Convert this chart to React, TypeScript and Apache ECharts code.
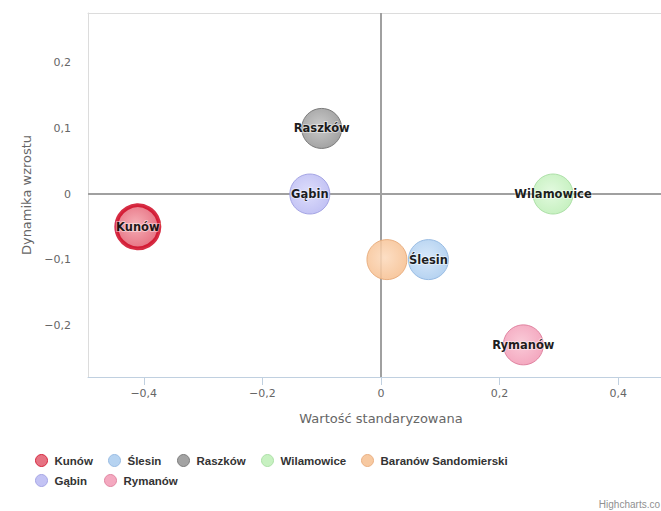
import React, { useEffect, useRef } from "react";
import * as echarts from "echarts";

// ---- data ----
const names = ["Kunów", "Ślesin", "Raszków", "Wilamowice", "Baranów Sandomierski", "Gąbin", "Rymanów"];
const xValues = [-0.41, 0.08, -0.1, 0.29, 0.01, -0.12, 0.24];
const yValues = [-0.05, -0.1, 0.1, 0, -0.1, 0, -0.23];
const showLabel = [true, true, true, true, false, true, true];
const xTicks = [-0.4, -0.2, 0, 0.2, 0.4];
const yTicks = [-0.2, -0.1, 0, 0.1, 0.2];

// ---- styles ----
const innerColors = ["#f5a5ae", "#d2e5f9", "#c4c4c4", "#dff9db", "#fcdabc", "#d9d9fb", "#f9c4d3"];
const outerColors = ["#e25a6d", "#a9cbee", "#939393", "#bdeeb6", "#f6bf90", "#b8b8f2", "#f29ab5"];
const borderColors = ["#d0102a", "#8fb5df", "#707070", "#a5dc9f", "#e6a878", "#9c9ce0", "#dc7a98"];
const legendText = [56, 129, 198, 282, 382, 56, 125];
const legendRow = [0, 0, 0, 0, 0, 1, 1];

const fmt = (v: number) => {
  if (Math.abs(v) < 1e-9) return "0";
  const s = Math.abs(v).toFixed(1).replace(".", ",");
  return v < 0 ? "\u2212" + s : s;
};

export default function App() {
  const ref = useRef<HTMLDivElement>(null);
  useEffect(() => {
    if (!ref.current) return;
    const chart = echarts.init(ref.current, undefined, { renderer: "svg" });
    const series = names.map((name, i) => ({
      type: "scatter",
      name,
      data: [[xValues[i], yValues[i]]],
      symbol: "circle",
      symbolSize: i === 0 ? 43 : 40,
      itemStyle: {
        color: new echarts.graphic.RadialGradient(0.45, 0.45, 0.6, [
          { offset: 0, color: innerColors[i] },
          { offset: 1, color: outerColors[i] },
        ]),
        borderColor: borderColors[i],
        borderWidth: i === 0 ? 4 : 1,
        opacity: 0.88,
      },
      label: {
        show: showLabel[i],
        position: "inside",
        formatter: name,
        fontFamily: "DejaVu Sans",
        fontWeight: "bold",
        fontSize: 11.5,
        color: "#000",
        textBorderColor: "rgba(255,255,255,0.5)",
        textBorderWidth: 2,
      },
      emphasis: { disabled: true },
      z: 3,
      markLine:
        i === 0
          ? {
              silent: true,
              symbol: "none",
              label: { show: false },
              lineStyle: { color: "#a0a0a0", width: 2, type: "solid" },
              emphasis: { disabled: true },
              data: [{ xAxis: 0 }, { yAxis: 0 }],
              z: 2,
            }
          : undefined,
    }));

    const legends = names.map((name, i) => ({
      data: [
        {
          name,
          itemStyle: { color: outerColors[i], borderColor: borderColors[i], borderWidth: 1, opacity: 0.85 },
        },
      ],
      left: legendText[i] - 21,
      top: legendRow[i] === 0 ? 454 : 474,
      padding: 0,
      icon: "circle",
      itemWidth: 16,
      itemHeight: 12,
      itemGap: 0,
      selectedMode: false,
      textStyle: { fontFamily: "Liberation Sans", fontWeight: "bold", fontSize: 11.5, color: "#333" },
    }));

    chart.setOption({
      animation: false,
      grid: {
        left: 88,
        top: 13,
        right: -13,
        bottom: 134,
        show: false,
        outerBoundsMode: "none",
        containLabel: false,
      },
      xAxis: [
        {
          type: "value",
          min: -0.494,
          max: 0.494,
          name: "Wartość standaryzowana",
          nameLocation: "middle",
          nameGap: 35,
          nameTextStyle: { fontFamily: "DejaVu Sans", fontSize: 13, color: "#666" },
          axisLine: { show: true, onZero: false, lineStyle: { color: "#c0d0e0", width: 1 } },
          axisTick: { show: true, customValues: xTicks, length: 8, lineStyle: { color: "#c0d0e0" } },
          axisLabel: {
            customValues: xTicks,
            formatter: fmt,
            margin: 11,
            fontFamily: "DejaVu Sans",
            fontSize: 11,
            color: "#666",
          },
          splitLine: { show: false },
        },
        {
          type: "value",
          position: "top",
          min: -0.494,
          max: 0.494,
          axisLine: { show: true, onZero: false, lineStyle: { color: "#dcdcdc", width: 1 } },
          axisTick: { show: false },
          axisLabel: { show: false },
          splitLine: { show: false },
        },
      ],
      yAxis: {
        type: "value",
        min: -0.279,
        max: 0.276,
        name: "Dynamika wzrostu",
        nameLocation: "middle",
        nameGap: 55,
        nameRotate: 90,
        nameTextStyle: { fontFamily: "DejaVu Sans", fontSize: 13, color: "#666" },
        axisLine: { show: true, onZero: false, lineStyle: { color: "#dcdcdc", width: 1 } },
        axisTick: { show: false },
        axisLabel: {
          customValues: yTicks,
          formatter: fmt,
          margin: 17,
          fontFamily: "DejaVu Sans",
          fontSize: 11,
          color: "#666",
        },
        splitLine: { show: false },
      },
      legend: legends,
      graphic: [
        {
          type: "text",
          right: 1,
          top: 499,
          style: { text: "Highcharts.co", fontFamily: "Liberation Sans", fontSize: 10, fill: "#909090" },
        },
      ],
      series,
    });
    return () => chart.dispose();
  }, []);
  return (
    <div
      ref={ref}
      style={{ position: "absolute", left: 0, top: 0, width: 661, height: 511, overflow: "hidden" }}
    />
  );
}
